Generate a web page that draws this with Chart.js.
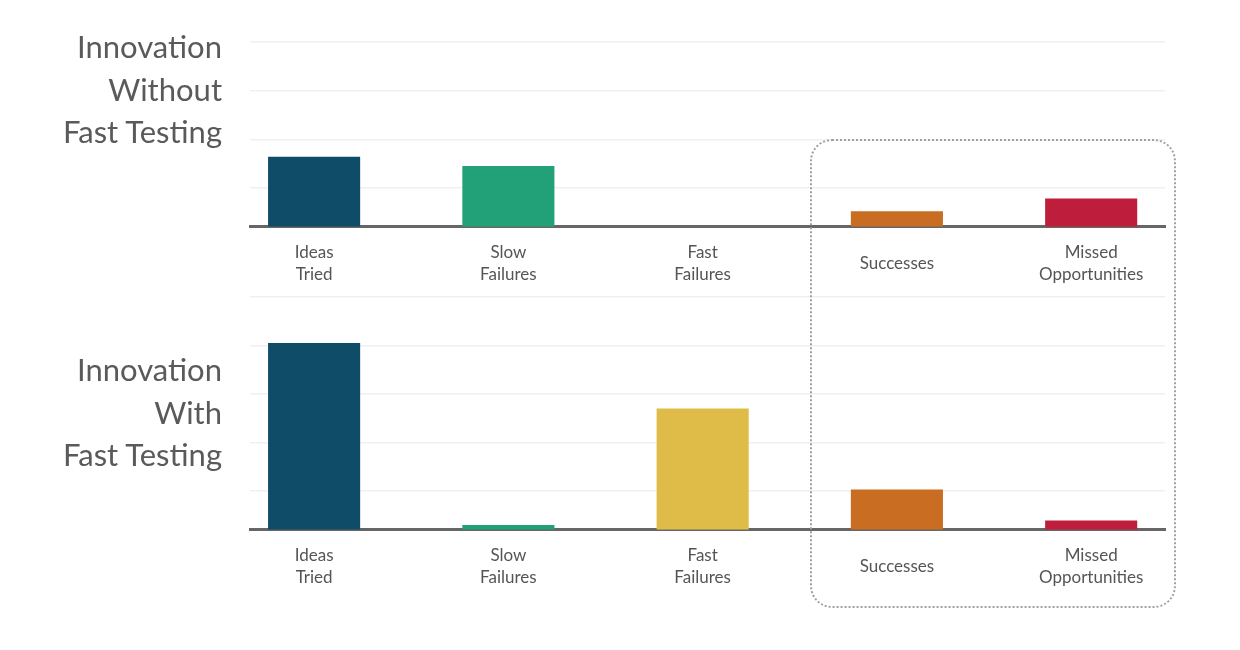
<!DOCTYPE html>
<html><head><meta charset="utf-8">
<script src="https://cdn.jsdelivr.net/npm/chart.js@4.4.0/dist/chart.umd.min.js"></script>
<style>
body{margin:0;background:#fff;width:1240px;height:650px;overflow:hidden;position:relative;font-family:Lato,sans-serif}
.wrap{position:absolute;left:0;width:1240px}
#w1{top:0;height:332px}
#w2{top:290px;height:360px}
.title{position:absolute;right:1018px;text-align:right;color:#5a5a5a;font-size:31px;line-height:42.5px;white-space:nowrap}
#t1{top:25px}
#t2{top:348px}
#box{position:absolute;border:2px dotted #a0a0a0;border-radius:22px;box-sizing:border-box;pointer-events:none}
</style></head><body>
<div class="wrap" id="w1"><canvas id="c1"></canvas></div>
<div class="wrap" id="w2"><canvas id="c2"></canvas></div>
<div class="title" id="t1">Innovation<br>Without<br>Fast Testing</div>
<div class="title" id="t2">Innovation<br>With<br>Fast Testing</div>
<div id="box"></div>
<script>
const categories = [["Ideas","Tried"],["Slow","Failures"],["Fast","Failures"],"Successes",["Missed","Opportunities"]];
const withoutFastTesting = [14.4, 12.5, 0, 3.2, 5.8];
const withFastTesting = [38.5, 1.0, 25.0, 8.3, 1.9];
const topGridValues = [8, 18, 28, 38];
const bottomGridValues = [8, 18, 28, 38, 48];
const barColors = ['#0f4c68','#22a078','#dfbb47','#c86d22','#be1e3b'];

function makeChart(id, values, gridValues, padding) {
  return new Chart(document.getElementById(id), {
    type: 'bar',
    data: {
      datasets: [{
        data: values.map((v, i) => ({x: i, y: v})),
        backgroundColor: barColors,
        borderWidth: 0,
        barPercentage: 0.474,
        categoryPercentage: 1
      }]
    },
    options: {
      responsive: true,
      maintainAspectRatio: false,
      animation: false,
      layout: {padding: padding},
      plugins: {legend: {display: false}, tooltip: {enabled: false}},
      scales: {
        x: {
          type: 'linear',
          offset: false,
          min: -0.33,
          max: 4.38,
          grid: {display: false, drawTicks: false, offset: false},
          border: {display: true, color: '#666666', width: 3},
          afterBuildTicks: s => { s.ticks = categories.map((c, i) => ({value: i})); },
          ticks: {
            autoSkip: false,
            maxRotation: 0,
            padding: 26,
            crossAlign: 'center',
            color: '#555555',
            font: {family: 'Lato', size: 17, lineHeight: 1.3},
            callback: v => categories[v]
          }
        },
        y: {
          min: 0,
          max: gridValues[gridValues.length - 1],
          afterBuildTicks: s => { s.ticks = gridValues.map(v => ({value: v})); },
          grid: {color: '#f0f0f0', lineWidth: 1.5, drawTicks: false},
          border: {display: false},
          ticks: {display: false}
        }
      }
    }
  });
}

const c1 = makeChart('c1', withoutFastTesting, topGridValues, {top: 42, left: 250, right: 75, bottom: 9});
const c2 = makeChart('c2', withFastTesting, bottomGridValues, {top: 7, left: 250, right: 75, bottom: 24});

const x2 = c2.scales.x;
const box = document.getElementById('box');
const bl = x2.getPixelForValue(2.5) + 10;
const br = x2.right + 11;
const bt = c1.scales.y.getPixelForValue(topGridValues[1]);
const bb = 290 + c2.chartArea.bottom + 78;
box.style.left = bl + 'px';
box.style.top = bt + 'px';
box.style.width = (br - bl) + 'px';
box.style.height = (bb - bt) + 'px';
</script>
</body></html>
